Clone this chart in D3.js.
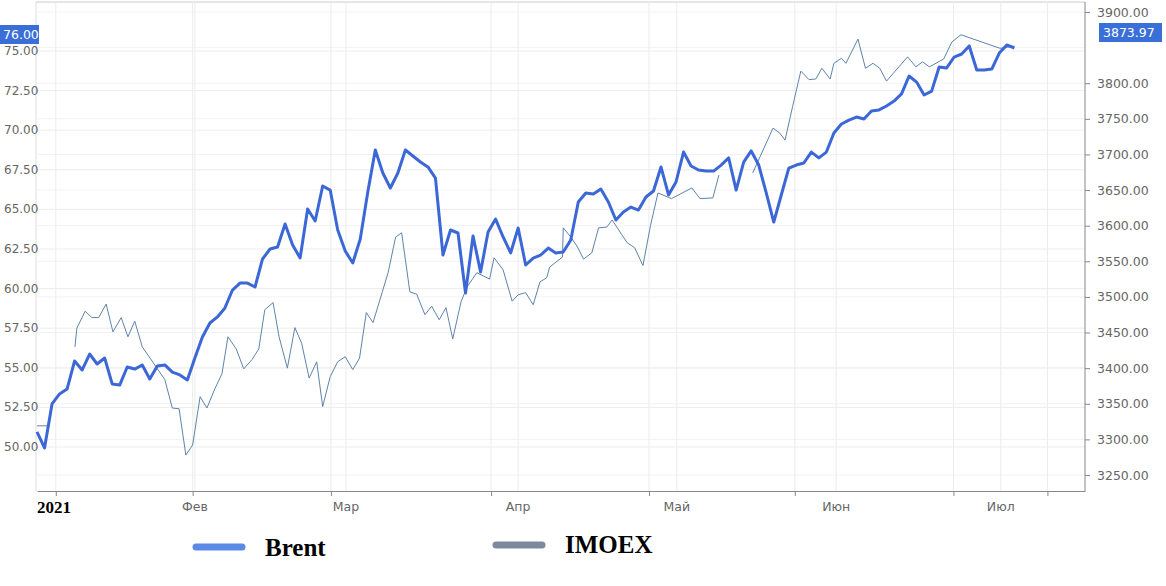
<!DOCTYPE html>
<html><head><meta charset="utf-8">
<script src="https://cdn.jsdelivr.net/npm/d3@7"></script>
<style>body{margin:0;background:#fff}svg{display:block}</style></head>
<body><svg id="c" width="1166" height="586"></svg>
<script>
// Brent: [trading-day index, value]
const brent = [[0,50.95],[1,49.94],[2,52.72],[3,53.35],[4,53.66],[5,55.43],[6,54.86],[7,55.87],[8,55.24],[9,55.62],[10,53.98],[11,53.91],[12,55.05],[13,54.92],[14,55.18],[15,54.29],[16,55.11],[17,55.18],[18,54.73],[19,54.55],[20,54.23],[21,55.62],[22,56.94],[23,57.83],[24,58.21],[25,58.78],[26,59.91],[27,60.35],[28,60.35],[29,60.10],[30,61.87],[31,62.50],[32,62.63],[33,64.08],[34,62.75],[35,61.93],[36,65.03],[37,64.27],[38,66.48],[39,66.22],[40,63.70],[41,62.37],[42,61.62],[43,63.13],[44,66.10],[45,68.75],[46,67.30],[47,66.35],[48,67.30],[49,68.75],[50,68.37],[51,67.99],[52,67.68],[53,66.98],[54,62.12],[55,63.70],[56,63.51],[57,59.72],[58,63.32],[59,61.05],[60,63.57],[61,64.39],[62,63.26],[63,62.25],[64,63.83],[65,61.49],[66,61.93],[67,62.12],[68,62.56],[69,62.25],[70,62.31],[71,63.07],[72,65.47],[73,66.04],[74,65.97],[75,66.29],[76,65.47],[77,64.33],[78,64.84],[79,65.15],[80,64.96],[81,65.78],[82,66.16],[83,67.68],[84,65.91],[85,66.73],[86,68.62],[87,67.74],[88,67.49],[89,67.42],[90,67.42],[91,67.80],[92,68.25],[93,66.22],[94,67.99],[95,68.69],[96,67.80],[97,66.04],[98,64.20],[99,65.91],[100,67.61],[101,67.80],[102,67.93],[103,68.62],[104,68.25],[105,68.62],[106,69.82],[107,70.39],[108,70.64],[109,70.83],[110,70.71],[111,71.21],[112,71.28],[113,71.53],[114,71.84],[115,72.29],[116,73.42],[117,73.04],[118,72.22],[119,72.47],[120,73.99],[121,73.93],[122,74.62],[123,74.81],[124,75.32],[125,73.80],[126,73.80],[127,73.86],[128,74.87],[129,75.38],[130,75.19]];
// IMOEX: [trading-day index, value]; null marks a gap in the line
const imoex = [[0,3319],[1.7,3319],[3,null],[5.05,3430],[5.3,3456],[6.4,3480],[7.3,3471],[8.2,3471],[9.2,3490],[10.1,3451],[11.2,3471],[12.1,3444],[13,3466],[14,3430],[17,3384],[18,3344],[18.9,3343],[19.8,3278],[20.7,3292],[21.7,3360],[22.6,3344],[23.7,3372],[24.6,3392],[25.4,3444],[26.5,3427],[27.5,3399],[28.6,3412],[29.5,3427],[30.3,3482],[31.4,3492],[32.2,3444],[33.3,3400],[34.3,3457],[35.2,3435],[36.2,3386],[37.2,3409],[38,3346],[39,3388],[40,3409],[41,3416],[42,3398],[42.9,3414],[43.8,3478],[44.7,3464],[45.9,3506],[46.7,3534],[47.7,3584],[48.5,3590],[49.6,3507],[50.5,3504],[51.6,3475],[52.5,3487],[53.5,3468],[54.4,3485],[55.3,3441],[56.4,3493],[57.2,3514],[58.5,3534],[60.2,3525],[60.8,3555],[62,3538],[63.2,3494],[64,3503],[65,3506],[66,3489],[66.9,3521],[67.8,3527],[68.2,3542],[69.9,3556],[70,3597],[71,3584],[71.9,3570],[72.7,3553],[73.8,3562],[74.7,3597],[75.8,3598],[76.5,3608],[78.5,3576],[79.5,3569],[80.6,3544],[81.6,3600],[82.6,3646],[84.4,3638],[87.1,3653],[88.2,3638],[89.9,3639],[90.7,3671],[93,null],[95.2,3674],[97.9,3737],[98.8,3730],[99.5,3720],[100.5,3767],[101.6,3817],[102.7,3805],[103.6,3806],[104.4,3821],[105.5,3806],[106,3828],[107,3835],[107.6,3828],[109.2,3862],[110.2,3821],[111.2,3828],[112.1,3821],[113,3803],[115.8,3837],[116.9,3823],[117.8,3830],[118.7,3823],[120.6,3834],[121.7,3858],[122.9,3868],[128.1,3849],[130,3852]];
const brentTicks = [50,52.5,55,57.5,60,62.5,65,67.5,70,72.5,75];
const imoexTicks = [3250,3300,3350,3400,3450,3500,3550,3600,3650,3700,3750,3800,3850,3900];
const minorTicks = [2.5,20.7,39.1,60.4,81.4,100.8,121.9,134.4];
const monthPos = [21,41.1,64,85.1,106.3,128.2];
const monthLabels = ["Фев","Мар","Апр","Май","Июн","Июл"];
const brentLast = "76.00", imoexLast = "3873.97";

const svg = d3.select("#c");
const x = d3.scaleLinear().domain([0,139.4]).range([37,1085]);
const yB = d3.scaleLinear().domain([50,75]).range([447,51]);
const yI = d3.scaleLinear().domain([3250,3900]).range([475,12]);
const grid = "#ececec";
const F = "Verdana, DejaVu Sans, sans-serif";
svg.append("line").attr("x1",36).attr("x2",1085).attr("y1",2).attr("y2",2).attr("stroke","#ccc");
svg.append("line").attr("x1",36).attr("x2",36).attr("y1",2).attr("y2",491).attr("stroke","#ddd");
svg.selectAll(".hg").data(brentTicks).join("line").attr("x1",36).attr("x2",1085)
  .attr("y1",d=>yB(d)).attr("y2",d=>yB(d)).attr("stroke",grid);
svg.selectAll(".hi").data(imoexTicks).join("line").attr("x1",36).attr("x2",1085)
  .attr("y1",d=>yI(d)).attr("y2",d=>yI(d)).attr("stroke","#f2f2f2");
svg.selectAll(".vg").data(minorTicks.concat(monthPos)).join("line").attr("x1",d=>x(d)).attr("x2",d=>x(d))
  .attr("y1",2).attr("y2",491).attr("stroke",grid);
svg.append("g").attr("transform","translate(0,491)")
  .call(d3.axisBottom(x).tickValues(minorTicks).tickFormat("").tickSize(5).tickSizeOuter(0))
  .call(g=>{g.select(".domain").attr("stroke","#888");g.selectAll("line").attr("stroke","#888");});
svg.selectAll(".ml").data(monthPos).join("text").attr("x",d=>x(d)).attr("y",511)
  .attr("text-anchor","middle").attr("font-family",F).attr("font-size",12.5)
  .attr("fill","#666").text((d,i)=>monthLabels[i]);
svg.append("text").attr("x",37).attr("y",513).attr("font-family","Liberation Serif, serif").attr("font-weight","bold")
  .attr("font-size",17).text("2021");
svg.append("g").attr("transform","translate(1085,0)")
  .call(d3.axisRight(yI).tickValues(imoexTicks.filter(d=>d!==3850)).tickFormat(d3.format(".2f")).tickSize(5).tickSizeOuter(0))
  .call(g=>{g.select(".domain").attr("stroke","#888").attr("d","M0,2V491");g.selectAll("line").attr("stroke","#888");
    g.selectAll("text").attr("font-family",F).attr("font-size",12.5).attr("fill","#666").attr("x",12);});
svg.selectAll(".bl").data(brentTicks).join("text").attr("x",4).attr("y",d=>yB(d)+4)
  .attr("font-family",F).attr("font-size",12).attr("fill","#666").text(d=>d.toFixed(2));
svg.append("path").datum(imoex).attr("fill","none").attr("stroke","#5f83ab").attr("stroke-width",1)
  .attr("d",d3.line().defined(d=>d[1]!==null).x(d=>x(d[0])).y(d=>yI(d[1])));
svg.append("path").datum(brent).attr("fill","none").attr("stroke","#3b68d6").attr("stroke-width",3)
  .attr("stroke-linejoin","round").attr("d",d3.line().x(d=>x(d[0])).y(d=>yB(d[1])));
svg.append("rect").attr("x",0).attr("y",25).attr("width",39).attr("height",19).attr("fill","#3a6fd8");
svg.append("text").attr("x",3).attr("y",39).attr("fill","#fff").attr("font-family",F).attr("font-size",12.5).text(brentLast);
svg.append("rect").attr("x",1099).attr("y",23).attr("width",63).attr("height",19).attr("fill","#3a6fd8");
svg.append("text").attr("x",1103).attr("y",37).attr("fill","#fff").attr("font-family",F).attr("font-size",12.5).text(imoexLast);
svg.append("line").attr("x1",196).attr("x2",242).attr("y1",547).attr("y2",547).attr("stroke","#5b8ae6").attr("stroke-width",7).attr("stroke-linecap","round");
svg.append("text").attr("x",265).attr("y",556).attr("font-family","Liberation Serif, serif").attr("font-weight","bold").attr("font-size",25).text("Brent");
svg.append("line").attr("x1",496).attr("x2",542).attr("y1",545).attr("y2",545).attr("stroke","#7d899c").attr("stroke-width",7).attr("stroke-linecap","round");
svg.append("text").attr("x",565).attr("y",553).attr("font-family","Liberation Serif, serif").attr("font-weight","bold").attr("font-size",25).text("IMOEX");
</script></body></html>
